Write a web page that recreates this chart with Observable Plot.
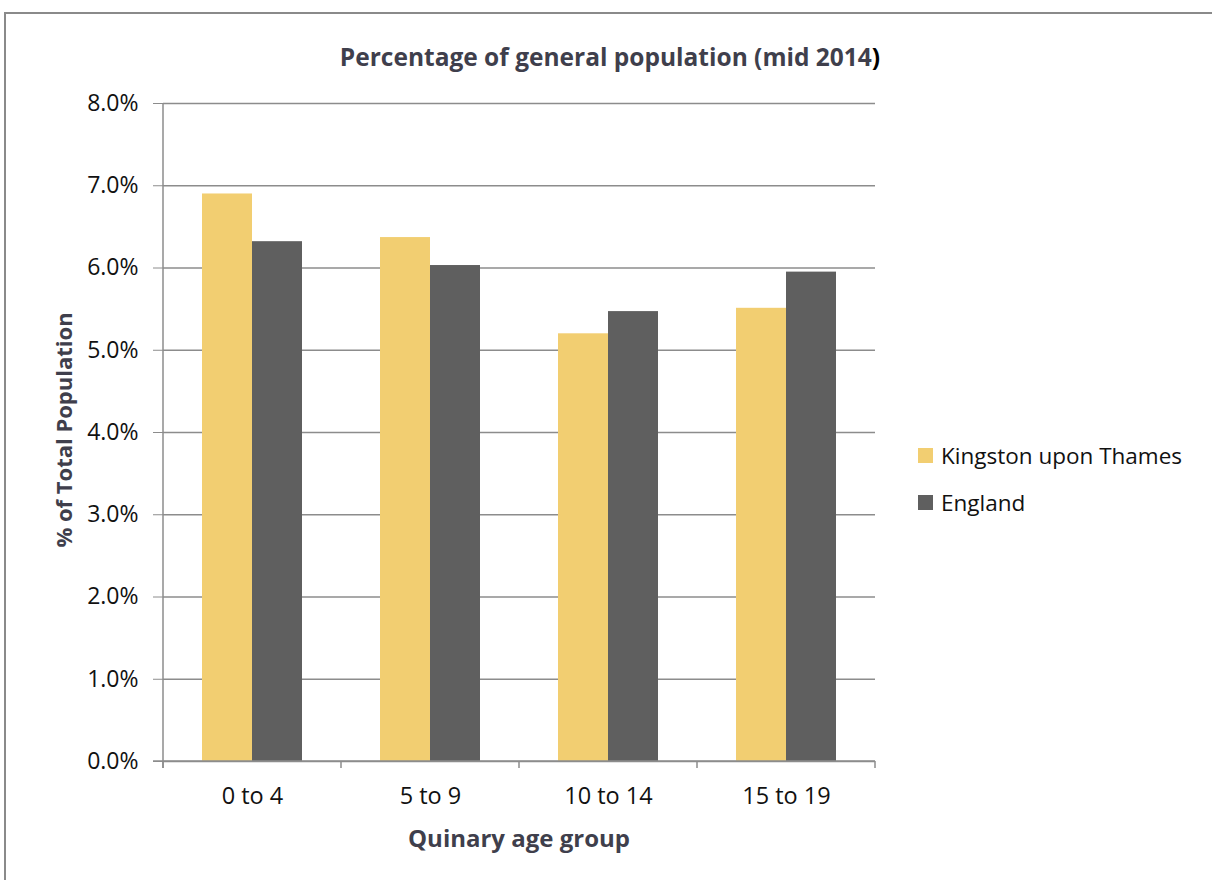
<!DOCTYPE html>
<html>
<head>
<meta charset="utf-8">
<script src="https://cdn.jsdelivr.net/npm/d3@7"></script>
<script src="https://cdn.jsdelivr.net/npm/@observablehq/plot@0.6"></script>
<style>
  html, body { margin: 0; padding: 0; background: #fff; }
  #wrap { position: relative; width: 1212px; height: 880px; overflow: hidden; font-family: "Open Sans", sans-serif; }
  #border { position: absolute; left: 4px; top: 12px; width: 1220px; height: 900px; border-left: 2px solid #8a8a8a; border-top: 2px solid #8a8a8a; box-sizing: border-box; }
  #title { position: absolute; top: 40px; left: 310px; width: 600px; text-align: center; font-weight: bold; font-size: 24.5px; line-height: 34px; color: #3f3f4c; }
  #title span { color: #000; }
  #ytitle { position: absolute; left: 63px; top: 430px; width: 400px; margin-left: -200px; margin-top: -17px; line-height: 34px; text-align: center; transform: rotate(-90deg); font-weight: bold; font-size: 22px; color: #3f3f4c; }
  #xtitle { position: absolute; left: 319px; top: 821px; width: 400px; line-height: 34px; text-align: center; font-weight: bold; font-size: 24px; color: #3f3f4c; }
  #legend { position: absolute; left: 918px; top: 432px; font-size: 22.5px; color: #111; }
  .item { display: flex; align-items: center; height: 47px; }
  .sw { width: 15px; height: 15px; margin-right: 8px; }
  svg { position: absolute; left: 0; top: 0; }
</style>
</head>
<body>
<div id="wrap">
  <div id="border"></div>
  <div id="title">Percentage of general population (mid 2014<span>)</span></div>
  <div id="ytitle">% of Total Population</div>
  <div id="xtitle">Quinary age group</div>
  <div id="legend"></div>
</div>
<script>
const ageGroups = ["0 to 4", "5 to 9", "10 to 14", "15 to 19"];
const seriesNames = ["Kingston upon Thames", "England"];
const kingston = [0.0690, 0.0637, 0.0520, 0.0551];
const england  = [0.0632, 0.0603, 0.0547, 0.0595];
const yTicks = [0, 0.01, 0.02, 0.03, 0.04, 0.05, 0.06, 0.07, 0.08];
const colors = ["#F2CE71", "#5F5F5F"];

const data = [];
ageGroups.forEach((g, i) => {
  data.push({group: g, series: seriesNames[0], value: kingston[i]});
  data.push({group: g, series: seriesNames[1], value: england[i]});
});

const chart = Plot.plot({
  width: 1212,
  height: 880,
  marginLeft: 162,
  marginRight: 336,
  marginTop: 103,
  marginBottom: 119,
  style: {fontFamily: "Open Sans, sans-serif", background: "transparent"},
  fx: {domain: ageGroups, padding: 0, label: null},
  x: {domain: seriesNames, paddingInner: 0, paddingOuter: 0.75, axis: null},
  y: {domain: [0, 0.08]},
  color: {domain: seriesNames, range: colors},
  marks: [
    Plot.gridY(yTicks, {stroke: "#8c8c8c", strokeOpacity: 1, strokeWidth: 1.5}),
    Plot.barY(data, {fx: "group", x: "series", y: "value", fill: "series"}),
    Plot.axisY(yTicks, {tickFormat: d3.format(".1%"), tickSize: 10, tickPadding: 15, stroke: "#8c8c8c", fontSize: 23, fill: "#111", label: null}),
    Plot.axisFx({anchor: "bottom", tickSize: 0, tickPadding: 26, fontSize: 23.5, fill: "#111", label: null})
  ]
});

const wrap = document.getElementById("wrap");
wrap.insertBefore(chart, document.getElementById("title"));

// Excel-style axis lines and boundary ticks, derived from Plot's scales
const fx = chart.scale("fx");
const y = chart.scale("y");
const svg = d3.select(chart);
const y0 = y.apply(0), yTop = y.apply(0.08);
const step = fx.step;
const left = fx.apply(ageGroups[0]) - (step - fx.bandwidth) / 2;
const bounds = d3.range(ageGroups.length + 1).map(i => left + i * step);
const g = svg.append("g").attr("stroke", "#8c8c8c").attr("stroke-width", 1.5);
g.append("line").attr("x1", bounds[0]).attr("x2", bounds[0]).attr("y1", yTop).attr("y2", y0 + 7);
g.append("line").attr("x1", bounds[0] - 10).attr("x2", bounds[bounds.length - 1]).attr("y1", y0).attr("y2", y0);
bounds.forEach(b => g.append("line").attr("x1", b).attr("x2", b).attr("y1", y0).attr("y2", y0 + 7));

// legend
const legend = d3.select("#legend");
seriesNames.forEach((s, i) => {
  const it = legend.append("div").attr("class", "item");
  it.append("div").attr("class", "sw").style("background", colors[i]);
  it.append("span").text(s);
});
</script>
</body>
</html>
